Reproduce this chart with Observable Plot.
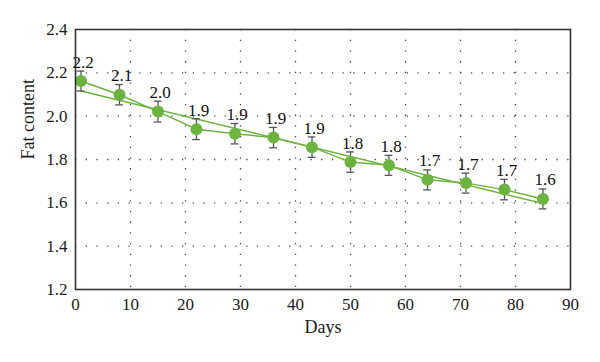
<!DOCTYPE html>
<html>
<head>
<meta charset="utf-8">
<script src="https://cdn.jsdelivr.net/npm/d3@7"></script>
<script src="https://cdn.jsdelivr.net/npm/@observablehq/plot@0.6"></script>
<style>
  html, body { margin: 0; padding: 0; background: #fff; }
  #chart svg { display: block; }
</style>
</head>
<body>
<div id="chart"></div>
<script>
const days = [1, 8, 15, 22, 29, 36, 43, 50, 57, 64, 71, 78, 85];
const fat = [2.162, 2.099, 2.021, 1.940, 1.919, 1.901, 1.857, 1.788, 1.773, 1.706, 1.691, 1.661, 1.618];
const err = [0.046, 0.047, 0.048, 0.048, 0.047, 0.047, 0.047, 0.047, 0.046, 0.046, 0.046, 0.047, 0.046];
const labels = ["2.2", "2.1", "2.0", "1.9", "1.9", "1.9", "1.9", "1.8", "1.8", "1.7", "1.7", "1.7", "1.6"];
const xTicks = [0, 10, 20, 30, 40, 50, 60, 70, 80, 90];
const yTicks = [1.2, 1.4, 1.6, 1.8, 2.0, 2.2, 2.4];
const xTitle = "Days";
const yTitle = "Fat content";

const data = days.map((d, i) => ({day: d, fat: fat[i], err: err[i], label: labels[i]}));

const green = "#6db33f";
const font = "'Liberation Serif', 'DejaVu Serif', serif";

const chart = Plot.plot({
  width: 600,
  height: 362,
  marginTop: 29,
  marginBottom: 73,
  marginLeft: 75,
  marginRight: 30,
  style: {fontFamily: font, fontSize: "17px", color: "#1a1a1a", background: "#fff"},
  x: {domain: [0, 90]},
  y: {domain: [1.2, 2.4]},
  marks: [
    Plot.gridX(xTicks.slice(1, -1), {stroke: "#444", strokeOpacity: 1, strokeWidth: 1.3, strokeDasharray: "1.3,9.4"}),
    Plot.gridY(yTicks.slice(1, -1), {stroke: "#444", strokeOpacity: 1, strokeWidth: 1.3, strokeDasharray: "1.3,9.4"}),
    Plot.axisX({ticks: xTicks, tickSize: 0, tickPadding: 8, fontSize: 17, label: null}),
    Plot.axisY({ticks: yTicks, tickSize: 0, tickPadding: 8, tickFormat: d3.format(".1f"), fontSize: 17, label: null}),
    Plot.text([xTitle], {frameAnchor: "bottom", dy: 43, fontSize: 18, fill: "#1a1a1a"}),
    Plot.text([yTitle], {frameAnchor: "left", dx: -47, rotate: -90, fontSize: 18, fill: "#1a1a1a"}),
    Plot.linearRegressionY(data, {x: "day", y: "fat", stroke: green, strokeWidth: 1.5, ci: 0}),
    Plot.line(data, {x: "day", y: "fat", stroke: green, strokeWidth: 1.5}),
    Plot.ruleX(data, {x: "day", y1: d => d.fat - d.err, y2: d => d.fat + d.err, stroke: "#555", strokeWidth: 1.3}),
    Plot.ruleY(data, {y: d => d.fat - d.err, x1: d => d.day - 0.7, x2: d => d.day + 0.7, stroke: "#555", strokeWidth: 1.3}),
    Plot.ruleY(data, {y: d => d.fat + d.err, x1: d => d.day - 0.7, x2: d => d.day + 0.7, stroke: "#555", strokeWidth: 1.3}),
    Plot.dot(data, {x: "day", y: "fat", r: 6, fill: green, stroke: "none"}),
    Plot.text(data, {x: "day", y: "fat", text: "label", dy: -19, dx: 2, fontSize: 17, fill: "#111"}),
    Plot.frame({stroke: "#333", strokeWidth: 1.6})
  ]
});
document.getElementById("chart").appendChild(chart);
</script>
</body>
</html>
